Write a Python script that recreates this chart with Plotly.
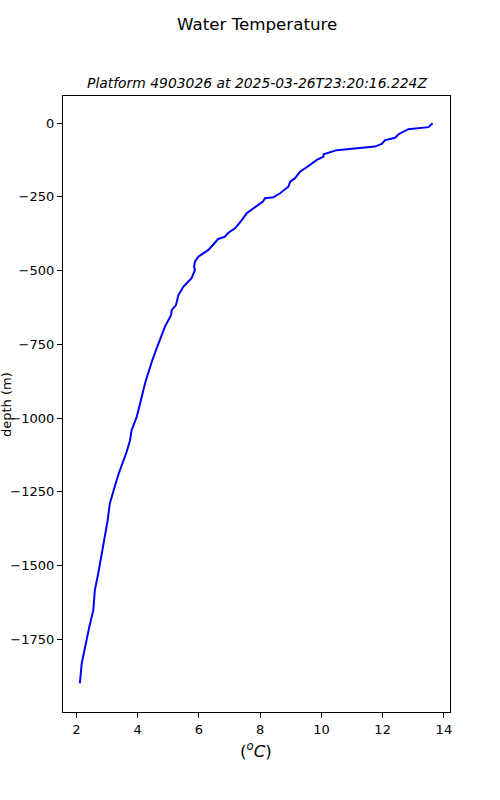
import plotly.graph_objects as go

temperature = [13.63, 13.5, 12.84, 12.52, 12.41, 12.08, 11.97, 11.75, 10.50, 10.34, 10.07, 10.07,
               9.85, 9.52, 9.30, 9.14, 8.98, 8.92, 8.65, 8.43, 8.16, 8.08, 7.94, 7.78, 7.56,
               7.40, 7.18, 6.96, 6.85, 6.63, 6.47, 6.31, 6.14, 5.98, 5.87, 5.84, 5.87, 5.76,
               5.60, 5.49, 5.33, 5.25, 5.11, 5.09, 4.89, 4.73, 4.60, 4.46, 4.31, 4.24, 4.08,
               3.97, 3.80, 3.75, 3.64, 3.51, 3.38, 3.30, 3.20, 3.09, 3.02, 2.93, 2.82, 2.71,
               2.60, 2.55, 2.42, 2.28, 2.17, 2.11]
depth = [-1, -14, -21, -38, -50, -58, -71, -80, -92, -97, -106, -114,
         -125, -150, -165, -187, -199, -216, -238, -252, -255, -267, -278, -289, -306,
         -329, -357, -372, -385, -393, -413, -430, -442, -453, -470, -487, -498, -526,
         -543, -555, -583, -617, -634, -651, -690, -730, -769, -809, -854, -882, -950,
         -995, -1041, -1075, -1114, -1148, -1188, -1215, -1255, -1289, -1346, -1402, -1470, -1527,
         -1583, -1651, -1707, -1775, -1832, -1899]

x_ticks = [2, 4, 6, 8, 10, 12, 14]
y_ticks = [0, -250, -500, -750, -1000, -1250, -1500, -1750]

title = "Water Temperature"
subtitle = "Platform 4903026 at 2025-03-26T23:20:16.224Z"
x_label = "(<sup><i>o</i></sup><i>C</i>)"
y_label = "depth (m)"

font = "DejaVu Sans"
W, H = 500, 800
L, R, T, B = 63, 50, 96, 88
plot_w = W - L - R
plot_h = H - T - B

fig = go.Figure(go.Scatter(x=temperature, y=depth, mode="lines",
                           line=dict(color="#0000ff", width=2)))

axis_common = dict(showline=True, linecolor="black", linewidth=1.2, mirror=True,
                   ticks="outside", ticklen=5, tickcolor="black", showgrid=False,
                   zeroline=False, automargin=False,
                   tickfont=dict(family=font, size=13, color="black"))

def py(pix):
    return 1 - (pix - T) / plot_h

def px(pix):
    return (pix - L) / plot_w

fig.update_layout(
    width=W, height=H,
    margin=dict(l=L, r=R, t=T, b=B, autoexpand=False),
    plot_bgcolor="white", paper_bgcolor="white",
    font=dict(family=font, color="black"),
    showlegend=False,
    xaxis=dict(range=[1.56, 14.2], tickvals=x_ticks, **axis_common),
    yaxis=dict(range=[-1996, 91.5], tickvals=y_ticks, **axis_common),
    annotations=[
        dict(text=title, x=0.5, y=py(24), xref="paper", yref="paper", showarrow=False,
             yanchor="middle", font=dict(family=font, size=16.7)),
        dict(text=f"<i>{subtitle}</i>", x=0.5, y=py(83), xref="paper", yref="paper",
             showarrow=False, yanchor="middle", font=dict(family=font, size=13.9)),
        dict(text=x_label, x=px(256), y=py(750), xref="paper", yref="paper",
             showarrow=False, yanchor="middle", font=dict(family=font, size=16.7)),
        dict(text=y_label, x=px(6), y=py(404), xref="paper", yref="paper",
             showarrow=False, textangle=-90, xanchor="center", yanchor="middle",
             font=dict(family=font, size=13)),
    ],
)

fig.write_html("out.html", config={"displayModeBar": False},
               post_script="document.body.style.margin='0';")
